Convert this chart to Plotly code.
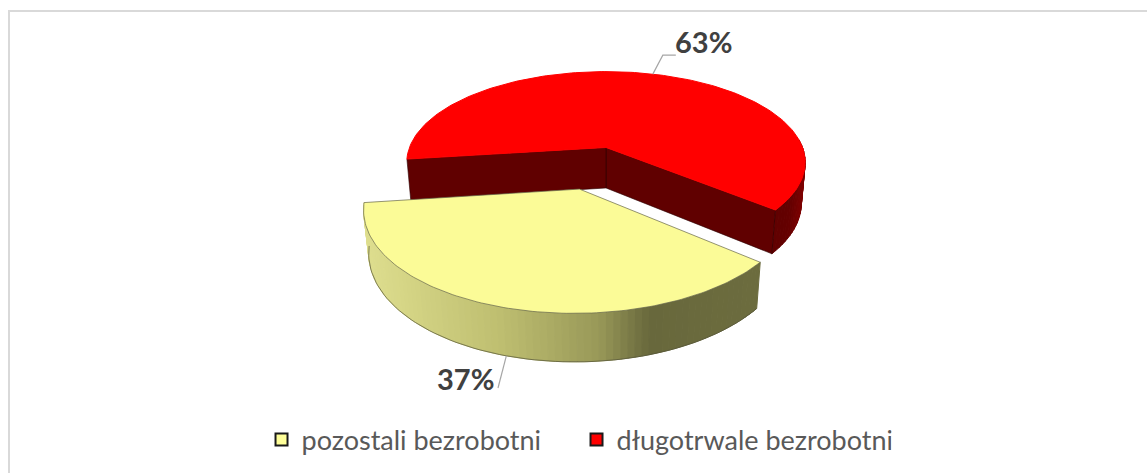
import math
import plotly.graph_objects as go

categories = ["pozostali bezrobotni", "długotrwale bezrobotni"]
values = [37, 63]
top_colors = ["#FBFB97", "#FF0000"]
legend_colors = ["#FFFF99", "#FF0000"]

W, H = 1147, 473
BISECT = 254.0
EXPLODE = [0.455, 0.0]
EXPLODE_DIR = 254.0
TILT = math.radians(26.7)
DIST = 5.47
FOCAL = 1075.0
CX, CY = 606.0, 147.5
THICK = 0.235


def proj(X, Y, Z=0.0):
    yc = Y * math.sin(TILT) + Z * math.cos(TILT)
    d = DIST + Y * math.cos(TILT) - Z * math.sin(TILT)
    return CX + FOCAL * X / d, CY - FOCAL * yc / d


total = sum(values)
span0 = values[0] / total * 360
a0 = BISECT - span0 / 2
a1 = BISECT + span0 / 2
off = (EXPLODE[0] * math.cos(math.radians(EXPLODE_DIR)),
       EXPLODE[0] * math.sin(math.radians(EXPLODE_DIR)))


def rim(a, z=0.0, ox=0.0, oy=0.0):
    t = math.radians(a)
    return proj(ox + math.cos(t), oy + math.sin(t), z)


def arange(s, e, n):
    return [s + (e - s) * i / n for i in range(n + 1)]


def poly(pts, fill, line=None, lw=0.6):
    xs = [p[0] for p in pts] + [pts[0][0]]
    ys = [p[1] for p in pts] + [pts[0][1]]
    return go.Scatter(
        x=xs, y=ys, mode="lines", fill="toself", fillcolor=fill,
        line=dict(color=line or fill, width=lw if line else 1),
        hoverinfo="skip", showlegend=False)


def lerp_color(stops, x):
    if x <= stops[0][0]:
        return "rgb(%d,%d,%d)" % stops[0][1]
    for (x0, c0), (x1, c1) in zip(stops, stops[1:]):
        if x <= x1:
            f = (x - x0) / (x1 - x0)
            return "rgb(%d,%d,%d)" % tuple(round(p + (q - p) * f) for p, q in zip(c0, c1))
    return "rgb(%d,%d,%d)" % stops[-1][1]


fig = go.Figure()

# red slice: the larger one, drawn first
r_start, r_end = a1 - 360, a0
center_top = proj(0, 0, 0)
center_bot = proj(0, 0, -THICK)
# outer wall, front right part
wall_stops = [(770, (96, 0, 0)), (790, (100, 0, 0)), (805, (125, 0, 0))]
seg = arange(r_start, 5, 24)
for s, e in zip(seg, seg[1:]):
    p = [rim(s), rim(e), rim(e, -THICK), rim(s, -THICK)]
    fig.add_trace(poly(p, lerp_color(wall_stops, p[0][0])))
# cut walls
fig.add_trace(poly([center_top, rim(r_start), rim(r_start, -THICK), center_bot], "#600000", "#2a0000"))
fig.add_trace(poly([center_top, rim(r_end), rim(r_end, -THICK), center_bot], "#600000", "#2a0000"))
# top
fig.add_trace(poly([center_top] + [rim(a) for a in arange(r_start, r_end, 180)], top_colors[1]))

# yellow slice: exploded towards the viewer
y_stops = [(365, (222, 222, 142)), (500, (190, 190, 112)), (600, (152, 152, 88)),
           (650, (104, 104, 60)), (755, (108, 108, 62))]
seg = arange(a0, a1, 80)
for s, e in zip(seg, seg[1:]):
    p = [rim(s, 0, *off), rim(e, 0, *off), rim(e, -THICK, *off), rim(s, -THICK, *off)]
    fig.add_trace(poly(p, lerp_color(y_stops, (p[0][0] + p[1][0]) / 2)))
fig.add_trace(go.Scatter(
    x=[rim(a, -THICK, *off)[0] for a in seg], y=[rim(a, -THICK, *off)[1] for a in seg],
    mode="lines", line=dict(color="#55553a", width=0.7), hoverinfo="skip", showlegend=False))
y_center = proj(off[0], off[1], 0)
fig.add_trace(poly([y_center] + [rim(a, 0, *off) for a in arange(a0, a1, 120)],
                   top_colors[0], "#66664a", 0.7))

# leader lines and data labels, anchored at each slice's bisector
red_anchor = rim(BISECT - 180)
yel_anchor = rim(BISECT, -THICK, *off)
red_elbow = (red_anchor[0] + 10, red_anchor[1] - 19)
fig.add_trace(go.Scatter(
    x=[red_anchor[0], red_elbow[0], red_elbow[0] + 13],
    y=[red_anchor[1], red_elbow[1], red_elbow[1]],
    mode="lines", line=dict(color="#A6A6A6", width=1.2), hoverinfo="skip", showlegend=False))
yel_end = (498, 388)
fig.add_trace(go.Scatter(
    x=[yel_anchor[0], yel_end[0]], y=[yel_anchor[1], yel_end[1]],
    mode="lines", line=dict(color="#A6A6A6", width=1.2), hoverinfo="skip", showlegend=False))
for txt, x, y in [(f"{values[1]}%", 703, 41), (f"{values[0]}%", 465, 378)]:
    fig.add_annotation(x=x, y=y, text=f"<b>{txt}</b>", showarrow=False, xref="x", yref="y",
                       font=dict(family="Lato", size=29, color="#404040"))

# legend
for name, col in zip(categories, legend_colors):
    fig.add_trace(go.Scatter(
        x=[None], y=[None], mode="markers", name=name,
        marker=dict(symbol="square", size=17, color=col, line=dict(color="#1a1a1a", width=1.5))))

fig.update_layout(
    width=W, height=H, margin=dict(l=0, r=0, t=0, b=0),
    paper_bgcolor="white", plot_bgcolor="white",
    xaxis=dict(range=[0, W], visible=False, fixedrange=True),
    yaxis=dict(range=[H, 0], visible=False, fixedrange=True),
    legend=dict(orientation="h", x=0.228, xanchor="left", y=0.07, yanchor="middle",
                font=dict(family="Lato", size=27, color="#595959"),
                entrywidth=270, entrywidthmode="pixels",
                itemsizing="constant", bgcolor="rgba(0,0,0,0)"),
    shapes=[dict(type="rect", xref="x", yref="y", x0=9, y0=11, x1=1170, y1=490,
                 line=dict(color="#D9D9D9", width=2), fillcolor="rgba(0,0,0,0)", layer="below")],
)
fig.write_html("out.html", config={"displayModeBar": False},
               post_script="document.body.style.margin='0';document.body.style.overflow='hidden';")
